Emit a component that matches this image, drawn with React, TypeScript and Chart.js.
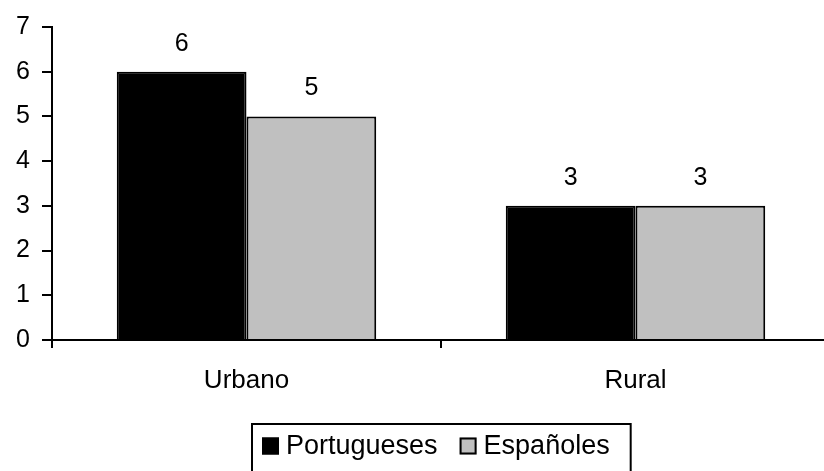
import React, { useEffect, useRef } from "react";
import { Chart, registerables } from "chart.js";

Chart.register(...registerables);

const categories = ["Urbano", "Rural"];
const seriesNames = ["Portugueses", "Españoles"];
const portugueses = [6, 3];
const espanoles = [5, 3];
const yTicks = [0, 1, 2, 3, 4, 5, 6, 7];
const colors = ["#000000", "#C0C0C0"];

const FONT = "Liberation Sans, Arial, sans-serif";

const valueLabels = {
  id: "valueLabels",
  afterDatasetsDraw(chart: any) {
    const ctx = chart.ctx;
    ctx.save();
    ctx.font = `25px ${FONT}`;
    ctx.fillStyle = "#000";
    ctx.textAlign = "center";
    ctx.textBaseline = "middle";
    chart.data.datasets.forEach((ds: any, i: number) => {
      const meta = chart.getDatasetMeta(i);
      meta.data.forEach((bar: any, j: number) => {
        ctx.fillText(String(ds.data[j]), bar.x, bar.y - 28);
      });
    });
    ctx.restore();
  },
};

const boxLegend = {
  id: "boxLegend",
  afterDraw(chart: any) {
    const ctx = chart.ctx;
    ctx.save();
    ctx.font = `27px ${FONT}`;
    const sq = 17;
    const padL = 10;
    const padR = 21;
    const gapSqText = 7;
    const gapItems = 22;
    const widths = seriesNames.map((n) => ctx.measureText(n).width);
    let total = padL + padR;
    widths.forEach((w, i) => {
      total += sq + gapSqText + w + (i < widths.length - 1 ? gapItems : 0);
    });
    const cx = (chart.chartArea.left + chart.chartArea.right) / 2;
    const left = Math.round(cx - total / 2);
    const top = chart.height - 47;
    const h = 70;
    ctx.lineWidth = 2;
    ctx.strokeStyle = "#000";
    ctx.strokeRect(left, top, total, h);
    let x = left + padL;
    const cy = top + 22;
    seriesNames.forEach((n, i) => {
      ctx.fillStyle = colors[i];
      ctx.fillRect(x, cy - sq / 2, sq, sq);
      ctx.lineWidth = 2;
      ctx.strokeStyle = "#000";
      ctx.strokeRect(x + 1, cy - sq / 2 + 1, sq - 2, sq - 2);
      x += sq + gapSqText;
      ctx.fillStyle = "#000";
      ctx.textAlign = "left";
      ctx.textBaseline = "middle";
      ctx.fillText(n, x, cy + 1);
      x += widths[i] + gapItems;
    });
    ctx.restore();
  },
};

export default function App() {
  const ref = useRef<HTMLCanvasElement | null>(null);
  useEffect(() => {
    if (!ref.current) return;
    const chart = new Chart(ref.current, {
      type: "bar",
      data: {
        labels: categories,
        datasets: [
          {
            label: seriesNames[0],
            data: portugueses,
            backgroundColor: colors[0],
            borderColor: "#000",
            borderWidth: 2,
            categoryPercentage: 0.667,
            barPercentage: 1.0,
          },
          {
            label: seriesNames[1],
            data: espanoles,
            backgroundColor: colors[1],
            borderColor: "#000",
            borderWidth: 2,
            categoryPercentage: 0.667,
            barPercentage: 1.0,
          },
        ],
      },
      options: {
        responsive: false,
        animation: false,
        layout: { padding: { left: 0, top: 23, right: 50, bottom: 81 } },
        plugins: {
          legend: { display: false },
          tooltip: { enabled: false },
        },
        scales: {
          x: {
            grid: {
              display: true,
              offset: true,
              drawOnChartArea: false,
              drawTicks: true,
              tickLength: 8,
              color: "#000",
              lineWidth: 2,
            },
            border: { display: true, color: "#000", width: 2 },
            ticks: {
              color: "#000",
              font: { family: FONT, size: 26 },
              padding: 17,
            },
            afterFit(scale: any) {
              scale.height = 50;
            },
          },
          y: {
            min: 0,
            max: 7,
            afterBuildTicks(scale: any) {
              scale.ticks = yTicks.map((v) => ({ value: v }));
            },
            grid: {
              display: true,
              drawOnChartArea: false,
              drawTicks: true,
              tickLength: 10,
              color: "#000",
              lineWidth: 2,
            },
            border: { display: true, color: "#000", width: 2 },
            ticks: {
              color: "#000",
              font: { family: FONT, size: 25 },
              padding: 12,
            },
            afterFit(scale: any) {
              scale.width = 52;
            },
          },
        },
      },
      plugins: [valueLabels, boxLegend],
    });
    return () => chart.destroy();
  }, []);
  return (
    <div
      style={{
        position: "fixed",
        left: 0,
        top: 0,
        width: 824,
        height: 471,
        overflow: "hidden",
        background: "#fff",
      }}
    >
      <canvas
        ref={ref}
        width={880}
        height={471}
        style={{ display: "block", width: 880, height: 471 }}
      />
    </div>
  );
}
